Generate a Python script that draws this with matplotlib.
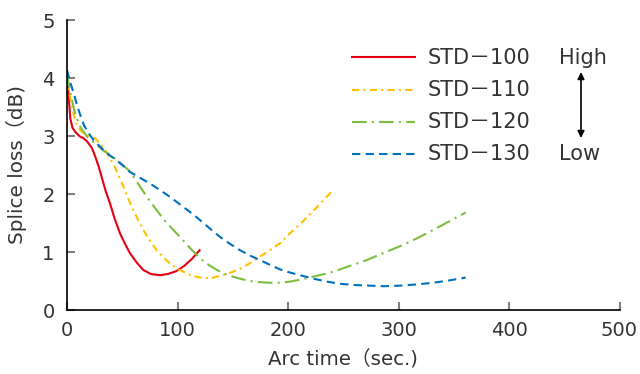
import matplotlib
matplotlib.use("Agg")
import matplotlib.pyplot as plt

plt.rcParams['font.family'] = ['DejaVu Sans', 'Noto Sans CJK JP']

# STD-100
x100 = [0.9, 3, 5, 7.5, 11.8, 15, 18.5, 22.6, 25.5, 28.7, 31.7, 35, 38.9, 43, 48, 52.5, 57, 63, 69, 76, 84, 91, 99, 106, 113, 120]
y100 = [3.85, 3.30, 3.14, 3.07, 2.99, 2.96, 2.90, 2.79, 2.65, 2.47, 2.27, 2.05, 1.84, 1.58, 1.32, 1.14, 0.98, 0.82, 0.69, 0.62, 0.60, 0.62, 0.67, 0.76, 0.88, 1.03]
# STD-110
x110 = [0, 2, 4.5, 7, 9, 12, 16.6, 21, 25.6, 29.9, 34.7, 38.9, 43.7, 47, 51, 55, 60, 64.5, 69, 75, 81.2, 87, 93.2, 100, 108.3, 115, 123.3, 131, 138.5, 147.5, 156.6, 165, 174.7, 183.5, 192.8, 201, 210.9, 224, 235, 241]
y110 = [4.02, 3.75, 3.51, 3.30, 3.19, 3.10, 3.02, 3.00, 2.96, 2.86, 2.76, 2.61, 2.45, 2.30, 2.13, 1.94, 1.72, 1.55, 1.38, 1.20, 1.03, 0.91, 0.80, 0.71, 0.63, 0.58, 0.55, 0.55, 0.59, 0.64, 0.71, 0.80, 0.92, 1.03, 1.15, 1.31, 1.48, 1.73, 1.95, 2.07]
# STD-120
x120 = [0, 2, 4.5, 7, 9, 12, 15, 19, 25.6, 32, 40.7, 48, 55.8, 60, 66, 73, 81.2, 88, 96.2, 102.3, 111.3, 120.4, 128, 138.5, 147, 156.6, 165, 174.7, 183.5, 192.8, 202, 213, 224, 235, 241, 256, 271.2, 286, 301.4, 316, 331.5, 346, 360.8]
y120 = [4.08, 3.85, 3.62, 3.42, 3.30, 3.16, 3.07, 2.97, 2.87, 2.76, 2.65, 2.54, 2.41, 2.30, 2.13, 1.93, 1.72, 1.55, 1.38, 1.26, 1.07, 0.89, 0.78, 0.66, 0.59, 0.54, 0.50, 0.48, 0.47, 0.47, 0.49, 0.53, 0.58, 0.63, 0.66, 0.76, 0.86, 0.98, 1.10, 1.23, 1.38, 1.53, 1.68]
# STD-130
x130 = [0, 3, 6, 9, 12, 15.5, 19.6, 24, 28.7, 34, 39, 43.7, 50, 57, 66, 75.1, 84, 93.2, 102.3, 111.3, 120.4, 129, 138.5, 147.5, 156.6, 165.5, 174.7, 183.5, 192.8, 201, 210.9, 223, 235, 248, 261, 274, 287, 301.4, 316, 331.5, 346, 360.8]
y130 = [4.14, 3.92, 3.74, 3.54, 3.36, 3.18, 3.05, 2.93, 2.84, 2.74, 2.66, 2.60, 2.50, 2.38, 2.28, 2.18, 2.07, 1.95, 1.82, 1.69, 1.55, 1.41, 1.26, 1.14, 1.03, 0.94, 0.86, 0.78, 0.70, 0.65, 0.60, 0.54, 0.49, 0.45, 0.43, 0.42, 0.41, 0.42, 0.44, 0.47, 0.51, 0.56]

labels = ['STD－100', 'STD－110', 'STD－120', 'STD－130']
colors = ['#E60012', '#FFC000', '#7DBE3C', '#0070C0']
styles = ['-', (0, (3.5, 2, 1, 2)), (0, (7, 2.5, 1, 2.5)), (0, (4, 2.5))]
text_color = '#333333'

fig = plt.figure(figsize=(6.4, 3.74), dpi=100)
ax = fig.add_axes([67/640, 1-310/374, (619.5-67)/640, (310-20)/374])

series = [(x100, y100), (x110, y110), (x120, y120), (x130, y130)]
for (xs, ys), c, ls in zip(series, colors, styles):
    ax.plot(xs, ys, color=c, linestyle=ls, linewidth=1.5)

ax.set_xlim(0, 500)
ax.set_ylim(0, 5)
ax.set_xticks([0, 100, 200, 300, 400, 500])
ax.set_yticks([0, 1, 2, 3, 4, 5])
ax.spines['top'].set_visible(False)
ax.spines['right'].set_visible(False)
for s in ['left', 'bottom']:
    ax.spines[s].set_color('black')
    ax.spines[s].set_linewidth(1.2)
ax.tick_params(direction='in', length=6, width=1.5, color='#808080', labelsize=14, labelcolor=text_color)
ax.tick_params(axis='y', pad=9)
ax.tick_params(axis='x', pad=8)
ax.set_xlabel('Arc time（sec.)', fontsize=14.2, color=text_color, labelpad=7)
ax.set_ylabel('Splice loss（dB)', fontsize=14.4, color=text_color, labelpad=11)

legend_rows_y = [57.5, 89.5, 121.5, 153.5]
def px2data(px, py):
    return ((px - 67) / 1.105, (310 - py) / 58.0)
for ly, lab, c, ls in zip(legend_rows_y, labels, colors, styles):
    x0, yy = px2data(352, ly)
    x1, _ = px2data(415, ly)
    ax.plot([x0, x1], [yy, yy], color=c, linestyle=ls, linewidth=1.5, clip_on=False)
    tx, _ = px2data(428, ly)
    ax.text(tx, yy, lab, fontsize=15, va='center', ha='left', color=text_color)

hx, hy = px2data(559, 57.5)
ax.text(hx, hy, 'High', fontsize=15, va='center', ha='left', color=text_color)
lx, ly_ = px2data(559, 153.5)
ax.text(lx, ly_, 'Low', fontsize=15, va='center', ha='left', color=text_color)
arx, ay0 = px2data(581, 72)
_, ay1 = px2data(581, 138)
ax.annotate('', xy=(arx, ay0), xytext=(arx, ay1),
            arrowprops=dict(arrowstyle='<|-|>', color='black', lw=1.2, mutation_scale=10, shrinkA=0, shrinkB=0))

fig.savefig('out.png', dpi=100)
